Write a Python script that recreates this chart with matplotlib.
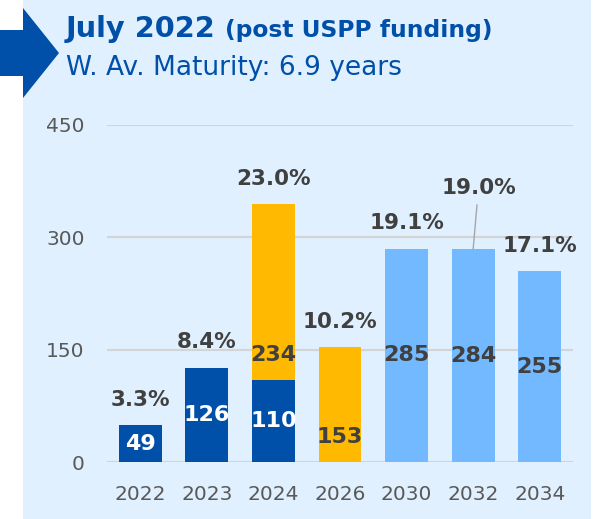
import matplotlib.pyplot as plt
from matplotlib.patches import Rectangle, Polygon
import numpy as np

# данные
years = ["2022", "2023", "2024", "2026", "2030", "2032", "2034"]
dark_vals = [49, 126, 110, 0, 0, 0, 0]
yellow_vals = [0, 0, 234, 153, 0, 0, 0]
light_vals = [0, 0, 0, 0, 285, 284, 255]
pct_labels = ["3.3%", "8.4%", "23.0%", "10.2%", "19.1%", "19.0%", "17.1%"]

DARK = "#004fa8"
YELLOW = "#ffb900"
LIGHT = "#73b9ff"
BG = "#e0f0fe"
TXT = "#404040"
FONT = "DejaVu Sans"

W, H = 601, 519
fig = plt.figure(figsize=(W / 100, H / 100), dpi=100)
fig.patch.set_facecolor("white")

def fx(px):
    return px / W

def fy(py):
    return 1 - py / H

# фон-панель и стрелка
fig.patches.append(Rectangle((fx(23), 0), fx(591) - fx(23), 1, transform=fig.transFigure,
                             facecolor=BG, edgecolor="none", zorder=-3))
arrow_pts = [(0, 30), (23, 30), (23, 8), (59, 53), (23, 98), (23, 76), (0, 76)]
fig.patches.append(Polygon([(fx(x), fy(y)) for x, y in arrow_pts], closed=True,
                           transform=fig.transFigure, facecolor=DARK, edgecolor="none", zorder=-2))

# заголовки
t = fig.text(fx(66), fy(37), "July 2022", fontsize=20.8, fontweight="bold", color=DARK,
             family=FONT, va="baseline", ha="left")
fig.canvas.draw()
bb = t.get_window_extent()
fig.text(bb.x1 / W + fx(9), fy(37), "(post USPP funding)", fontsize=16.8, fontweight="bold",
         color=DARK, family=FONT, va="baseline", ha="left")
fig.text(fx(66), fy(75), "W. Av. Maturity: 6.9 years", fontsize=19, color=DARK,
         family=FONT, va="baseline", ha="left")

ax = fig.add_axes([fx(107), fy(462), fx(573) - fx(107), fy(125) - fy(462)])
ax.set_facecolor("none")

x = np.arange(len(years))
bw = 0.645
dark = np.array(dark_vals)
yel = np.array(yellow_vals)
lig = np.array(light_vals)
ax.bar(x, dark, bw, color=DARK, zorder=3)
ax.bar(x, yel, bw, bottom=dark, color=YELLOW, zorder=3)
ax.bar(x, lig, bw, color=LIGHT, zorder=3)
totals = dark + yel + lig

# подписи внутри
for i in range(len(years)):
    if dark[i] > 0:
        ax.text(x[i], dark[i] / 2, str(dark[i]), ha="center", va="center", color="white",
                fontsize=16, fontweight="bold", family=FONT, zorder=4)
    if yel[i] > 0:
        ax.text(x[i], dark[i] + 33, str(yel[i]), ha="center", va="center", color=TXT,
                fontsize=16, fontweight="bold", family=FONT, zorder=4)
    if lig[i] > 0:
        ax.text(x[i], lig[i] / 2, str(lig[i]), ha="center", va="center", color=TXT,
                fontsize=16, fontweight="bold", family=FONT, zorder=4)

# проценты сверху
for i, lab in enumerate(pct_labels):
    if lab == "19.0%":
        ax.annotate(lab, xy=(x[i], totals[i]), xytext=(x[i] + 0.08, totals[i] + 82),
                    ha="center", va="center", color=TXT, fontsize=15.5, fontweight="bold",
                    family=FONT, zorder=4,
                    arrowprops=dict(arrowstyle="-", color="#a6a6a6", lw=1, shrinkA=3, shrinkB=0))
    else:
        ax.text(x[i], totals[i] + 34, lab, ha="center", va="center", color=TXT,
                fontsize=15.5, fontweight="bold", family=FONT, zorder=4)

ax.set_xlim(-0.5, len(years) - 0.5)
ax.set_ylim(0, 450)
ax.set_yticks([0, 150, 300, 450])
ax.set_xticks(x)
ax.set_xticklabels(years)
ax.yaxis.grid(True, color="#d4d4d4", lw=1.5, zorder=0)
ax.set_axisbelow(True)
for s in ax.spines.values():
    s.set_visible(False)
ax.tick_params(length=0, labelsize=14.5, labelcolor="#595959")
ax.tick_params(axis="x", pad=16.5)
ax.tick_params(axis="y", pad=16)
for lbl in ax.get_xticklabels() + ax.get_yticklabels():
    lbl.set_family(FONT)

fig.savefig("out.png", dpi=100)
